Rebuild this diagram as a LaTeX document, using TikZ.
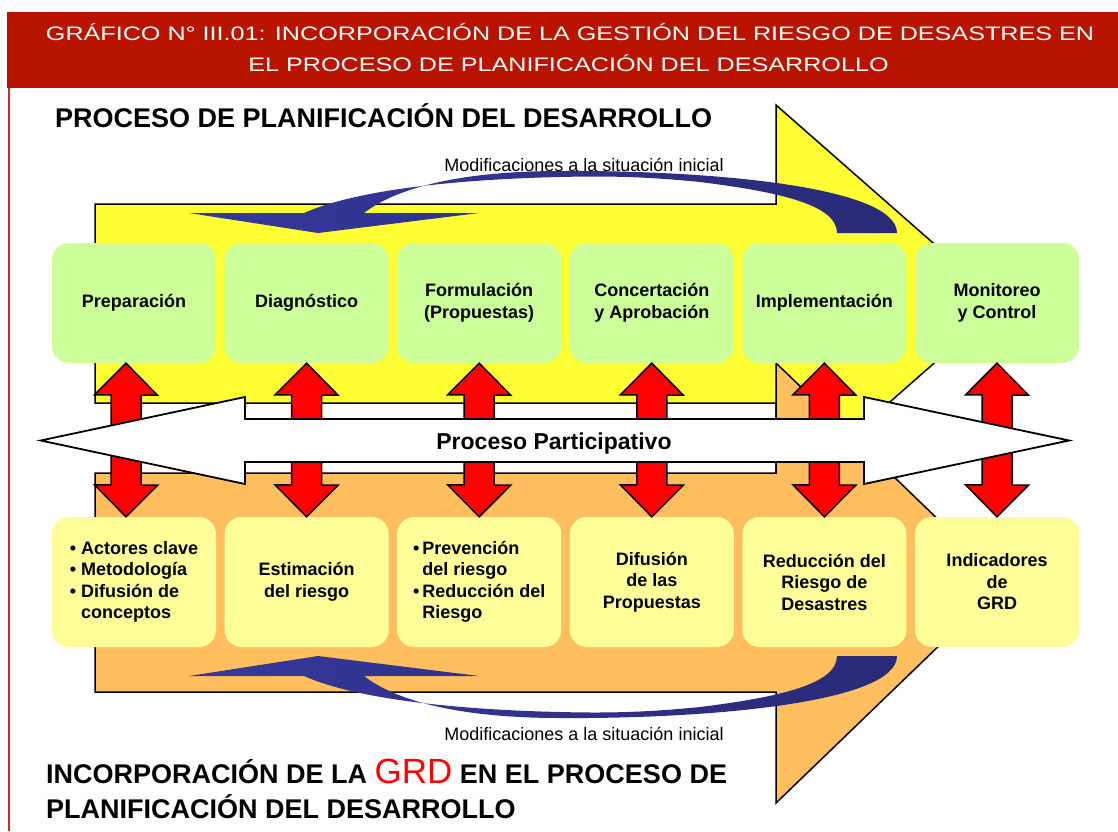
\documentclass[tikz,border=0pt]{standalone}
\usepackage{fontspec}
\setmainfont{Liberation Sans}
\usepackage{tikz}
\usetikzlibrary{shapes,arrows}
\usetikzlibrary{positioning,calc}
\definecolor{cabecera}{RGB}{184,20,0}
\definecolor{borde}{RGB}{200,45,45}
\definecolor{amarillo}{RGB}{255,255,51}
\definecolor{naranja}{RGB}{255,191,95}
\definecolor{verde}{RGB}{204,255,153}
\definecolor{crema}{RGB}{255,255,153}
\definecolor{azul}{RGB}{54,56,156}
\definecolor{azulosc}{RGB}{42,42,120}
\tikzstyle{etapa} = [rounded corners=17pt, fill=verde, minimum width=164pt,
    minimum height=120pt, align=center, inner sep=0pt,
    font=\fontsize{18}{21.5}\selectfont\bfseries]
\tikzstyle{accion} = [etapa, fill=crema, minimum height=130pt]
\tikzstyle{flecha} = [draw=black, line width=1.5pt]
\tikzstyle{doble} = [draw=black, fill=red, line width=1.5pt]
\tikzstyle{giro} = [left color=azul, right color=azulosc]
\tikzstyle{cab} = [anchor=base, inner sep=0pt, text=white,
    font=\fontsize{19.5}{24}\selectfont]
\tikzstyle{titulo} = [anchor=base west, inner sep=0pt,
    font=\fontsize{27}{32}\selectfont\bfseries]
\tikzstyle{nota} = [anchor=base, inner sep=0pt, font=\fontsize{18}{21}\selectfont]

\begin{document}
\begin{tikzpicture}[x=1pt, y=-1pt, node distance=172.6pt]
  \useasboundingbox (0,0) rectangle (1118,831);
  \fill[cabecera] (7,12) rectangle (1118,88);
  \node[cab] (cab1) at (570,40.7)
    {\scalebox{1.29}[1]{GRÁFICO N° III.01: INCORPORACIÓN DE LA GESTIÓN DEL RIESGO DE DESASTRES EN}};
  \node[cab] (cab2) at (568.5,71.7)
    {\scalebox{1.29}[1]{EL PROCESO DE PLANIFICACIÓN DEL DESARROLLO}};
  \draw[borde, line width=2pt] (8.5,88) -- (8.5,831);

  \filldraw[flecha, fill=amarillo] (95,204) -- (776,204) -- (776,105) -- (1002,303.5)
    -- (776,502) -- (776,403) -- (95,403) -- cycle;
  \filldraw[flecha, fill=naranja] (95,473) -- (776,473) -- (776,363) -- (1004,583)
    -- (776,803) -- (776,692) -- (95,692) -- cycle;

  \node [etapa] (e1) at (134,303) {Preparación};
  \node [etapa, right of=e1] (e2) {Diagnóstico};
  \node [etapa, right of=e2] (e3) {Formulación\\(Propuestas)};
  \node [etapa, right of=e3] (e4) {Concertación\\y Aprobación};
  \node [etapa, right of=e4] (e5) {Implementación};
  \node [etapa, right of=e5] (e6) {Monitoreo\\y Control};

  \node [accion, below of=e1, node distance=279pt] (g1)
    {\begin{tabular}{@{}l@{\hspace{5pt}}l@{}}
      • & Actores clave\\ • & Metodología\\ • & Difusión de\\ & conceptos
    \end{tabular}};
  \node [accion, right of=g1] (g2) {Estimación\\del riesgo};
  \node [accion, right of=g2] (g3)
    {\begin{tabular}{@{}l@{\hspace{3pt}}l@{}}
      • & Prevención\\ & del riesgo\\ • & Reducción del\\ & Riesgo
    \end{tabular}};
  \node [accion, right of=g3] (g4) {Difusión\\de las\\Propuestas};
  \node [accion, right of=g4] (g5) {Reducción del\\Riesgo de\\Desastres};
  \node [accion, right of=g5] (g6) {Indicadores\\de\\GRD};

  \foreach \i/\d in {1/-8,2/0,3/0,4/0,5/0,6/0}
    \draw[doble] ($(e\i.south)+(\d,0)$) -- ++(31.5,32) -- ++(-16.5,0) -- ++(0,90)
      -- ++(16.5,0) -- ($(g\i.north)+(\d,0)$) -- ++(-31.5,-32) -- ++(16.5,0)
      -- ++(0,-90) -- ++(-16.5,0) -- cycle;

  \filldraw[draw=black, fill=white, line width=1.8pt] (40.7,440.5) -- (245,397)
    -- (245,419) -- (864,419) -- (864,397) -- (1069,440.5) -- (864,484)
    -- (864,462) -- (245,462) -- (245,484) -- cycle;
  \node [anchor=base, inner sep=0pt, font=\fontsize{23}{28}\selectfont\bfseries]
    (pp) at (554,449.3) {Proceso Participativo};

  \foreach \s/\o in {1/0,-1/889} {
    \begin{scope}[shift={(0,\o)}, yscale=\s]
      \shade[giro] (837,233) .. controls (837,205) and (780,192) .. (700,182)
        .. controls (640,176) and (600,176) .. (560,177)
        .. controls (470,179) and (360,188) .. (304,213)
        -- (189,213) -- (318,233) -- (479,213) -- (364,213)
        .. controls (400,185) and (470,171) .. (560,171)
        .. controls (700,170) and (897,185) .. (897,233) -- cycle;
    \end{scope}
  }
  \node [nota] (mod1) at (584,171) {Modificaciones a la situación inicial};
  \node [nota] (mod2) at (584,740) {Modificaciones a la situación inicial};

  \node [titulo] (sup) at (55,127) {PROCESO DE PLANIFICACIÓN DEL DESARROLLO};
  \node [titulo] (inf1) at (46,783) {INCORPORACIÓN DE LA
    {\fontsize{35}{35}\selectfont\mdseries\color{red}GRD} EN EL PROCESO DE};
  \node [titulo] (inf2) at (46,818) {PLANIFICACIÓN DEL DESARROLLO};
\end{tikzpicture}
\end{document}
